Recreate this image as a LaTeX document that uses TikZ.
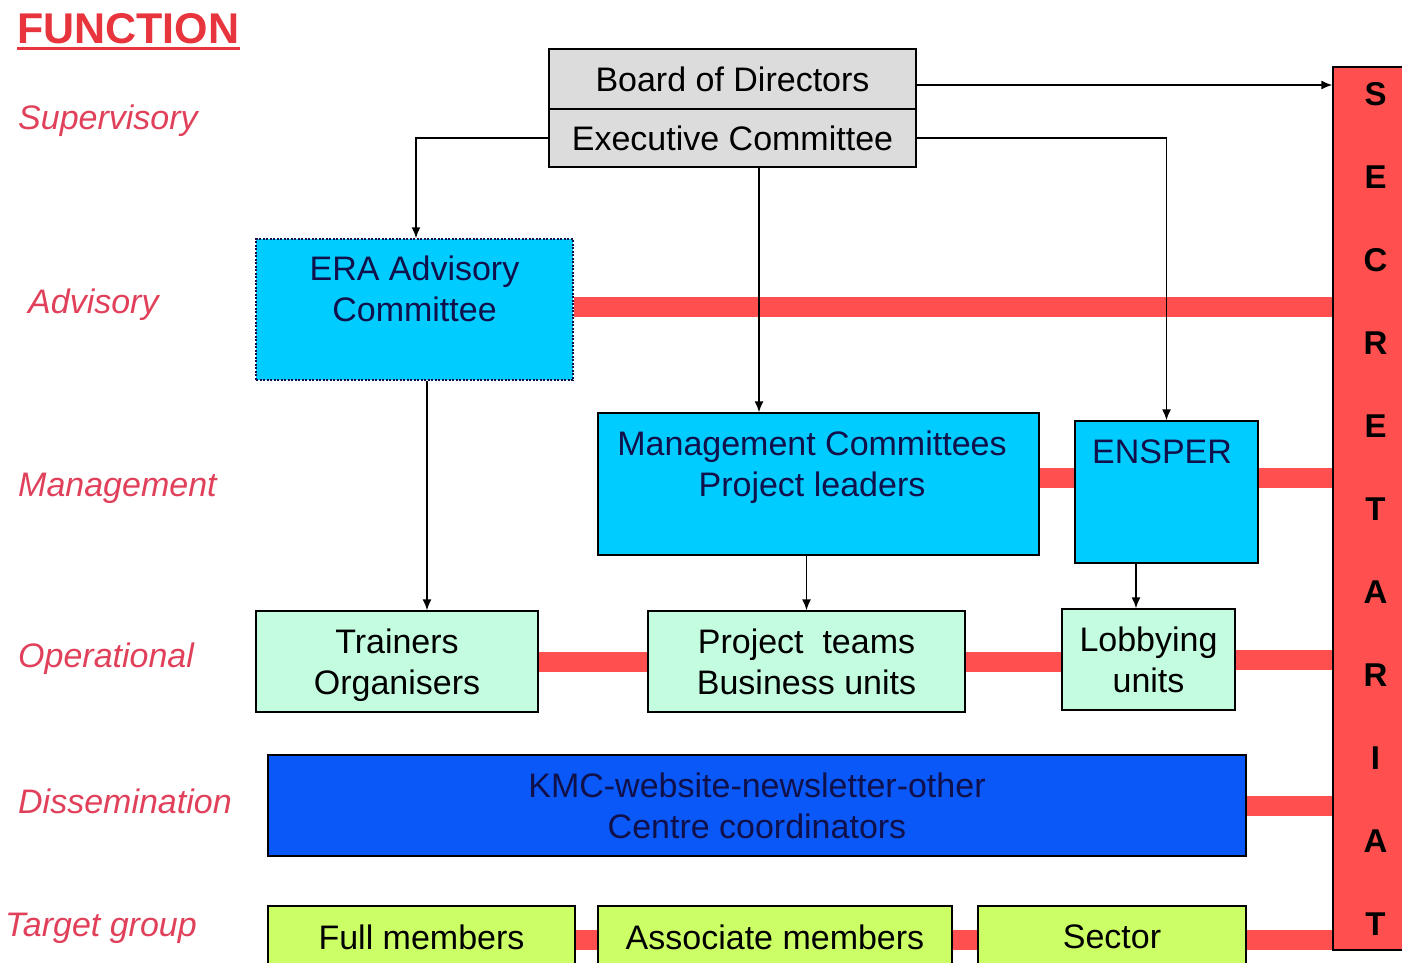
\documentclass[tikz,border=0pt]{standalone}
\usepackage{fontspec}
\setmainfont{Liberation Sans}
\usetikzlibrary{arrows.meta,backgrounds,calc}
\definecolor{boxgray}{HTML}{DCDCDC}
\definecolor{cyanbox}{HTML}{00CCFF}
\definecolor{mintbox}{HTML}{C4FCE0}
\definecolor{bluebox}{HTML}{0A58F8}
\definecolor{limebox}{HTML}{CCFF66}
\definecolor{redbar}{HTML}{FF4F4F}
\definecolor{labelred}{HTML}{E0405A}
\definecolor{titlered}{HTML}{E8343C}
\definecolor{navytext}{HTML}{10104A}
\begin{document}
\begin{tikzpicture}[x=1pt,y=-1pt,
  txt/.style={font=\fontsize{34}{41}\selectfont, align=center, inner sep=0pt},
  box/.style={txt, draw=black, line width=1.3pt, inner sep=0pt},
  arr/.style={line width=1.6pt, -{Latex[length=11pt,width=9pt]}},
  bar/.style={line width=20pt, draw=redbar},
  lvl/.style={font=\fontsize{34}{41}\selectfont\itshape, text=labelred, anchor=west, inner sep=0pt, text height=25pt, text depth=7pt}]
\useasboundingbox (0,0) rectangle (1402,963);

% title and level labels
\node[font=\fontsize{43}{50}\selectfont\bfseries, text=titlered, anchor=west, inner sep=0pt, text height=31pt, text depth=0pt] (fn) at (17,28) {FUNCTION};
\draw[titlered, line width=2.5pt] ([yshift=-5pt]fn.south west) -- ([yshift=-5pt]fn.south east);
\node[lvl] (lsup) at (18,121) {Supervisory};
\node[lvl] (ladv) at (28,304) {Advisory};
\node[lvl] (lman) at (18,487) {Management};
\node[lvl] (lope) at (18,658) {Operational};
\node[lvl] (ldis) at (18,804) {Dissemination};
\node[lvl] (ltar) at (5,927) {Target group};

% secretariat
\node[box, fill=redbar, font=\fontsize{33}{83}\selectfont\bfseries, minimum width=85pt, minimum height=883pt] (sec) at (1375.5,508.5)
  {S\\E\\C\\R\\E\\T\\A\\R\\I\\A\\T};

% boxes
\node[box, fill=boxgray, minimum width=367pt, minimum height=60pt] (board) at (732.5,79) {Board of Directors};
\node[box, fill=boxgray, minimum width=367pt, minimum height=58pt] (exec) at (732.5,138) {Executive Committee};

\node[draw=navytext, fill=cyanbox, line width=1.5pt, dash pattern=on 2pt off 1.5pt, minimum width=317pt, minimum height=141pt] (era) at (414.5,309.5) {};
\node[txt, text=navytext] (erat) at (414.5,289) {ERA Advisory\\Committee};

\node[box, fill=cyanbox, minimum width=441pt, minimum height=142pt] (mgmt) at (818.5,484) {};
\node[txt, text=navytext] (mgmtt) at (812,464) {Management Committees\\\smash{Project leaders}};

\node[box, fill=cyanbox, minimum width=183pt, minimum height=142pt] (ensper) at (1166.5,492) {};
\node[txt, text=navytext] (ensert) at (1162,452) {ENSPER};

\node[box, fill=mintbox, minimum width=282pt, minimum height=101pt] (trainers) at (397,661.5) {Trainers\\\smash{Organisers}};
\node[box, fill=mintbox, minimum width=317pt, minimum height=101pt] (proj) at (806.5,661.5) {Project\ \ teams\\Business units};
\node[box, fill=mintbox, minimum width=173pt, minimum height=101pt] (lobby) at (1148.5,659.5) {Lobbying\\units};

\node[box, fill=bluebox, text=navytext, minimum width=978pt, minimum height=101pt] (kmc) at (757,805.5) {KMC-website-newsletter-other\\Centre coordinators};

\node[box, fill=limebox, minimum width=307pt, minimum height=62pt] (full) at (421.5,937) {Full members};
\node[box, fill=limebox, minimum width=354pt, minimum height=62pt] (assoc) at (775,937) {Associate members};
\node[box, fill=limebox, minimum width=268pt, minimum height=62pt] (sector) at (1112,937) {Sector};

% red bars
\begin{scope}[on background layer]
\draw[bar] ([yshift=3pt]era.east) -- ([yshift=3pt]era.east -| sec.west);
\draw[bar] ([yshift=6pt]mgmt.east) -- ([yshift=6pt]mgmt.east -| ensper.west);
\draw[bar] ([yshift=6pt]mgmt.east -| ensper.east) -- ([yshift=6pt]mgmt.east -| sec.west);
\draw[bar] (trainers.east) -- (proj.west);
\draw[bar] (proj.east) -- (proj.east -| lobby.west);
\draw[bar] (lobby.east) -- (lobby.east -| sec.west);
\draw[bar] (kmc.east) -- (kmc.east -| sec.west);
\draw[bar] ([yshift=-3pt]full.east) -- ([yshift=-3pt]assoc.west);
\draw[bar] ([yshift=-3pt]assoc.east) -- ([yshift=-3pt]sector.west);
\draw[bar] ([yshift=-3pt]sector.east) -- ([yshift=-3pt]sector.east -| sec.west);
\end{scope}

% arrows
\draw[arr] ([yshift=-6pt]board.east) -- ([yshift=-6pt]board.east -| sec.west);
\draw[arr] (exec.west) -| ([xshift=1.5pt]era.north);
\draw[arr] ([xshift=26.5pt]exec.south) -- ([xshift=26.5pt]exec.south |- mgmt.north);
\draw[arr] (exec.east) -| (ensper.north);
\draw[arr] ([xshift=12.5pt]era.south) -- ([xshift=12.5pt]era.south |- trainers.north);
\draw[arr] (proj.north |- mgmt.south) -- (proj.north);
\draw[arr] ([xshift=-12.5pt]lobby.north |- ensper.south) -- ([xshift=-12.5pt]lobby.north);
\end{tikzpicture}
\end{document}
